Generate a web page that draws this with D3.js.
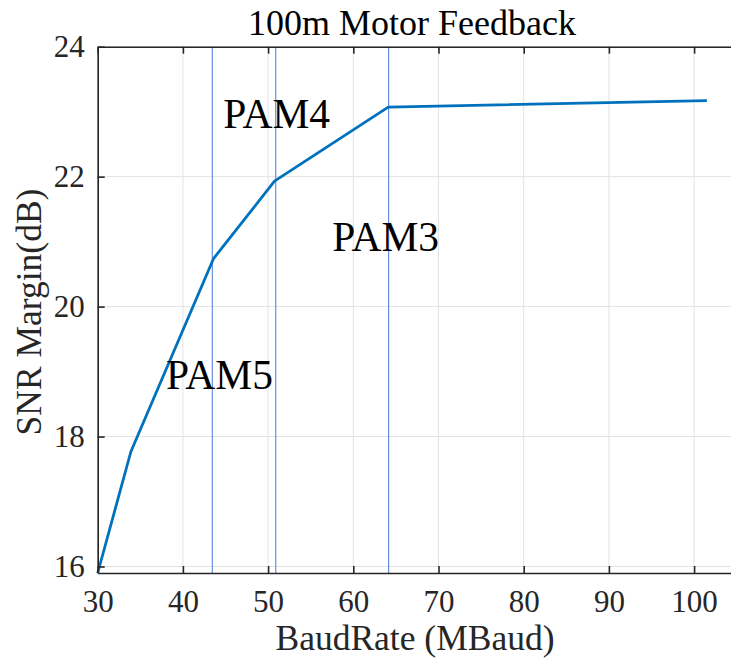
<!DOCTYPE html>
<html>
<head>
<meta charset="utf-8">
<script src="https://cdn.jsdelivr.net/npm/d3@7"></script>
<style>
  body { margin: 0; background: #fff; }
  svg text { font-family: "Liberation Serif", "DejaVu Serif", serif; }
</style>
</head>
<body>
<svg id="chart" width="731" height="659"></svg>
<script>
// data
const baudRate = [30, 33.9, 43.6, 50.75, 64.1, 101.5];
const snrMargin = [15.9, 17.77, 20.74, 21.93, 23.07, 23.17];
const boundaries = [43.45, 50.9, 64.15];
const pamLabels = ["PAM4", "PAM3", "PAM5"];
const pamX = [51.0, 63.8, 44.3];
const pamY = [22.75, 20.86, 18.73];
const xTicks = [30, 40, 50, 60, 70, 80, 90, 100];
const yTicks = [16, 18, 20, 22, 24];

const svg = d3.select("#chart");
const mLeft = 97.7, mTop = 46.7, mBottom = 573;
const xMax = 105;

const x = d3.scaleLinear().domain([30, xMax]).range([mLeft, mLeft + 8.52 * (xMax - 30)]);
const y = d3.scaleLinear().domain([15.9, 24]).range([mBottom, mTop]);

const axisColor = "#262626";

// grid
svg.append("g").selectAll("line")
  .data(xTicks).enter().append("line")
  .attr("x1", d => x(d)).attr("x2", d => x(d))
  .attr("y1", mTop).attr("y2", mBottom)
  .attr("stroke", "#e3e3e3").attr("stroke-width", 1);
svg.append("g").selectAll("line")
  .data(yTicks).enter().append("line")
  .attr("x1", mLeft).attr("x2", x(xMax))
  .attr("y1", d => y(d)).attr("y2", d => y(d))
  .attr("stroke", "#e3e3e3").attr("stroke-width", 1);

// boundaries between modulations
svg.append("g").selectAll("line")
  .data(boundaries).enter().append("line")
  .attr("x1", d => x(d)).attr("x2", d => x(d))
  .attr("y1", mTop).attr("y2", mBottom)
  .attr("stroke", "#4a78d6").attr("stroke-width", 1);

// curve
const line = d3.line().x(d => x(d)).y((d, i) => y(snrMargin[i]));
svg.append("path")
  .datum(baudRate)
  .attr("d", line)
  .attr("fill", "none")
  .attr("stroke", "#0072BD")
  .attr("stroke-width", 2.8)
  .attr("stroke-linejoin", "round");

// axes
function styleAxis(g) {
  g.attr("font-family", null).attr("font-size", null);
  g.select(".domain").attr("stroke", axisColor).attr("stroke-width", 1.6);
  g.selectAll(".tick line").attr("stroke", axisColor).attr("stroke-width", 1.6);
  g.selectAll(".tick text").attr("fill", axisColor)
    .style("font-family", "'Liberation Serif', serif").style("font-size", "31px");
}

const xAxis = svg.append("g").attr("transform", `translate(0,${mBottom})`)
  .call(d3.axisBottom(x).tickValues(xTicks).tickSizeInner(-7).tickSizeOuter(0).tickPadding(17));
styleAxis(xAxis);

const xTop = svg.append("g").attr("transform", `translate(0,${mTop})`)
  .call(d3.axisTop(x).tickValues(xTicks).tickSizeInner(-7).tickSizeOuter(0).tickFormat(""));
styleAxis(xTop);

const yAxis = svg.append("g").attr("transform", `translate(${mLeft},0)`)
  .call(d3.axisLeft(y).tickValues(yTicks).tickSizeInner(-7).tickSizeOuter(0).tickPadding(13));
styleAxis(yAxis);

// labels
svg.append("text")
  .attr("x", 412).attr("y", 35)
  .attr("text-anchor", "middle")
  .attr("font-size", 36).attr("fill", "#000")
  .text("100m Motor Feedback");

svg.append("text")
  .attr("x", 415).attr("y", 650)
  .attr("text-anchor", "middle")
  .attr("font-size", 35.5).attr("fill", axisColor)
  .text("BaudRate (MBaud)");

svg.append("text")
  .attr("transform", "translate(41,312) rotate(-90)")
  .attr("text-anchor", "middle")
  .attr("font-size", 35.5).attr("fill", axisColor)
  .text("SNR Margin(dB)");

svg.append("g").selectAll("text")
  .data(pamLabels).enter().append("text")
  .attr("x", (d, i) => x(pamX[i])).attr("y", (d, i) => y(pamY[i]))
  .attr("text-anchor", "middle")
  .attr("font-size", 41.5).attr("fill", "#000")
  .text(d => d);
</script>
</body>
</html>
